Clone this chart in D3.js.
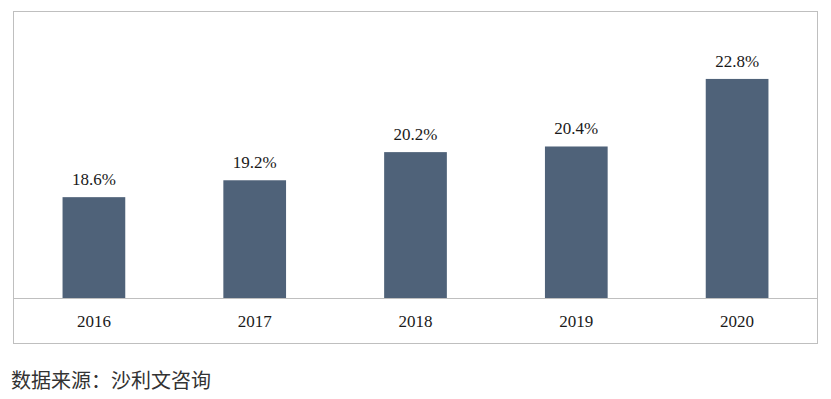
<!DOCTYPE html>
<html>
<head>
<meta charset="utf-8">
<script src="https://cdn.jsdelivr.net/npm/d3@7/dist/d3.min.js"></script>
<style>
  body { margin: 0; background: #fff; }
  svg { display: block; }
</style>
</head>
<body>
<figure id="graph" style="margin:0"></figure>
<script>
const years = ['2016', '2017', '2018', '2019', '2020'];
const values = [18.6, 19.2, 20.2, 20.4, 22.8];
const valueLabels = ['18.6%', '19.2%', '20.2%', '20.4%', '22.8%'];
const yDomain = [15, 25];
const sourceText = '数据来源：沙利文咨询';

const width = 831;
const height = 399;
const box = { left: 13.5, top: 11.5, right: 817.5, bottom: 343.5 };
const baseline = 298.5;

const svg = d3.select('figure#graph')
  .append('svg')
  .attr('width', width)
  .attr('height', height);

// outer frame
svg.append('rect')
  .attr('x', box.left)
  .attr('y', box.top)
  .attr('width', box.right - box.left)
  .attr('height', box.bottom - box.top)
  .attr('fill', 'none')
  .attr('stroke', '#bfbfbf')
  .attr('stroke-width', 1);

const xScale = d3.scaleBand()
  .domain(years)
  .range([box.left, box.right])
  .paddingInner(0.61)
  .paddingOuter(0.305);

const yScale = d3.scaleLinear()
  .domain(yDomain)
  .range([baseline, 17]);

svg.append('g')
  .selectAll('rect')
  .data(years)
  .join('rect')
  .attr('x', d => xScale(d))
  .attr('y', (d, i) => yScale(values[i]))
  .attr('width', xScale.bandwidth())
  .attr('height', (d, i) => baseline - yScale(values[i]))
  .attr('fill', '#4f6279');

// value labels
svg.append('g')
  .selectAll('text')
  .data(years)
  .join('text')
  .attr('x', d => xScale(d) + xScale.bandwidth() / 2)
  .attr('y', (d, i) => yScale(values[i]) - 12)
  .attr('text-anchor', 'middle')
  .attr('font-family', '"Liberation Serif", "Times New Roman", serif')
  .attr('font-size', 17)
  .attr('fill', '#1a1a1a')
  .text((d, i) => valueLabels[i]);

// x axis
const xAxis = svg.append('g')
  .attr('class', 'x axis')
  .attr('transform', `translate(0, ${baseline})`)
  .call(d3.axisBottom(xScale).tickSize(0).tickPadding(16));

xAxis.attr('font-family', '"Liberation Serif", "Times New Roman", serif');

xAxis.select('.domain')
  .attr('d', `M${box.left},0H${box.right}`)
  .attr('stroke', '#bfbfbf');

xAxis.selectAll('text')
  .attr('font-family', '"Liberation Serif", "Times New Roman", serif')
  .attr('font-size', 17)
  .attr('fill', '#1a1a1a');

svg.append('text')
  .attr('x', 11)
  .attr('y', 388)
  .attr('font-family', '"Noto Sans CJK SC", sans-serif')
  .attr('font-size', 20)
  .attr('fill', '#333')
  .text(sourceText);
</script>
</body>
</html>
